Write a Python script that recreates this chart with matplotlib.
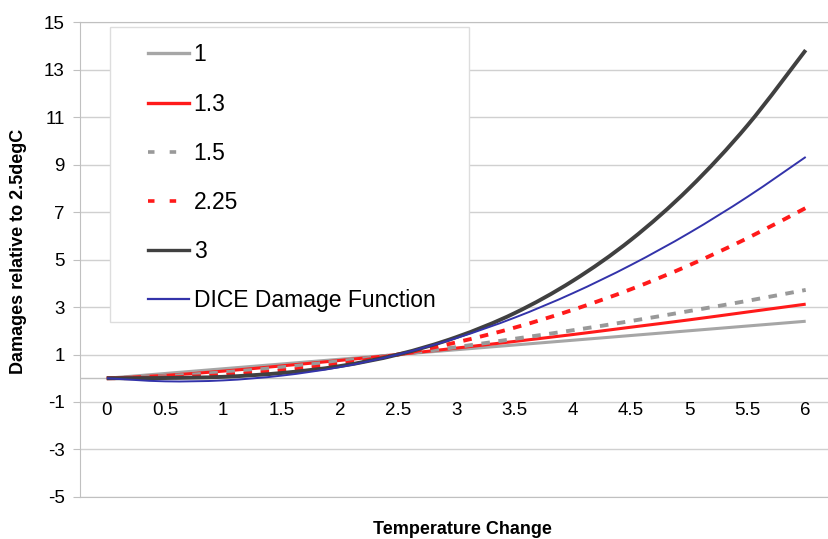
#damage functions relative to 2.5degC, with the DICE curve for comparison
import matplotlib
matplotlib.use("Agg")
import matplotlib.pyplot as plt
from matplotlib.lines import Line2D
from matplotlib.patches import Rectangle, PathPatch
from matplotlib.path import Path

plt.rcParams['font.family'] = ['Liberation Sans', 'DejaVu Sans']

temp = [0, 0.5, 1, 1.5, 2, 2.5, 3, 3.5, 4, 4.5, 5, 5.5, 6]
d_1 = [0, 0.2, 0.4, 0.6, 0.8, 1.0, 1.2, 1.4, 1.6, 1.8, 2.0, 2.2, 2.4]
d_13 = [0, 0.12, 0.30, 0.52, 0.75, 1.0, 1.27, 1.55, 1.84, 2.15, 2.46, 2.79, 3.12]
d_15 = [0, 0.09, 0.25, 0.46, 0.72, 1.0, 1.31, 1.66, 2.02, 2.41, 2.83, 3.26, 3.72]
d_225 = [0, 0.03, 0.13, 0.32, 0.60, 1.0, 1.51, 2.13, 2.88, 3.75, 4.76, 5.90, 7.17]
d_3 = [0, 0.01, 0.06, 0.22, 0.51, 1.0, 1.73, 2.74, 4.10, 5.83, 8.00, 10.65, 13.82]
d_dice = [0, -0.13, -0.09, 0.11, 0.47, 1.0, 1.69, 2.55, 3.58, 4.77, 6.12, 7.64, 9.32]
series_labels = ['1', '1.3', '1.5', '2.25', '3', 'DICE Damage Function']
y_ticks = [-5, -3, -1, 1, 3, 5, 7, 9, 11, 13, 15]


def smooth_line(ax, x, y, **kw):
    '''Excel style smoothed line: bezier segments through the points'''
    n = len(x)
    verts = [(x[0], y[0])]
    codes = [Path.MOVETO]
    for i in range(n - 1):
        i0 = max(i - 1, 0)
        i3 = min(i + 2, n - 1)
        c1 = (x[i] + (x[i + 1] - x[i0]) / 6, y[i] + (y[i + 1] - y[i0]) / 6)
        c2 = (x[i + 1] - (x[i3] - x[i]) / 6, y[i + 1] - (y[i3] - y[i]) / 6)
        verts += [c1, c2, (x[i + 1], y[i + 1])]
        codes += [Path.CURVE4] * 3
    p = PathPatch(Path(verts, codes), fill=False, capstyle='butt', **kw)
    ax.add_patch(p)
    return p


fig = plt.figure(figsize=(8.29, 5.39), dpi=100)
ax = fig.add_axes([0.0965, 0.078, 0.9035, 0.881])

grey_line = '#d0d0d0'
for y in y_ticks:
    ax.axhline(y, color=grey_line, lw=1, zorder=1)
ax.axhline(0, color='#c0c0c0', lw=1, zorder=1)

smooth_line(ax, temp, d_1, edgecolor='#a6a6a6', lw=2.2, zorder=3)
smooth_line(ax, temp, d_13, edgecolor='#ff1a1a', lw=2.2, zorder=3)
smooth_line(ax, temp, d_15, edgecolor='#999999', lw=2.8, linestyle=(0, (2.2, 2.2)), zorder=3)
smooth_line(ax, temp, d_225, edgecolor='#ff1a1a', lw=2.8, linestyle=(0, (2.2, 2.2)), zorder=3)
smooth_line(ax, temp, d_3, edgecolor='#404040', lw=2.8, zorder=3)
smooth_line(ax, temp, d_dice, edgecolor='#3333aa', lw=1.4, zorder=3)

ax.set_xlim(-0.23, 6.2)
ax.set_ylim(-5, 15)
ax.set_yticks(y_ticks)
ax.set_yticklabels([str(v) for v in y_ticks], fontsize=13.5)
ax.tick_params(axis='y', length=5, color='#c0c0c0', pad=6)
ax.set_xticks([])
for t in temp:
    ax.text(t, -1.35, '%g' % t, ha='center', va='center', fontsize=13.5, zorder=2)

for side in ['left', 'top', 'bottom']:
    ax.spines[side].set_color('#c0c0c0')
ax.spines['right'].set_visible(False)

fig.text(19 / 829, 1 - 251 / 539, 'Damages relative to 2.5degC', rotation=90,
         ha='center', va='center', fontsize=13, fontweight='bold')
fig.text(462 / 829, 1 - 530 / 539, 'Temperature Change', ha='center', va='center',
         fontsize=13, fontweight='bold')

#legend box drawn on its own so its size matches the original
box = Rectangle((0.040, 0.368), 0.48, 0.621, transform=ax.transAxes,
                facecolor='white', edgecolor='#dddddd', lw=1, zorder=4)
ax.add_patch(box)
handles = [Line2D([], [], color='#a6a6a6', lw=2.4),
           Line2D([], [], color='#ff1a1a', lw=2.4),
           Line2D([], [], color='#999999', lw=2.6, dashes=(1.8, 4.2)),
           Line2D([], [], color='#ff1a1a', lw=2.6, dashes=(1.8, 4.2)),
           Line2D([], [], color='#404040', lw=2.4),
           Line2D([], [], color='#3333aa', lw=1.6)]
leg = ax.legend(handles, series_labels, loc='upper left', bbox_to_anchor=(0.0905, 0.955),
                frameon=False, fontsize=16.5, handlelength=1.8, handletextpad=0.2,
                labelspacing=1.14, borderpad=0, borderaxespad=0)
leg.set_zorder(5)

fig.savefig('out.png', dpi=100)
